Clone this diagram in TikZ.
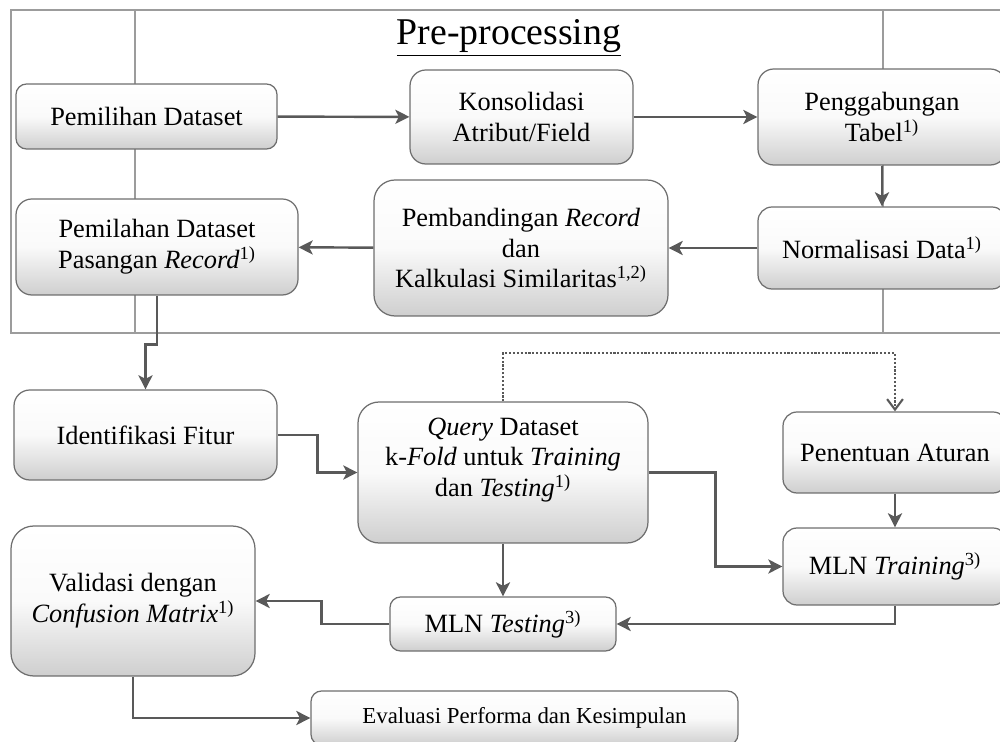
\documentclass[tikz,border=0pt]{standalone}
\usepackage{fontspec}
\setmainfont{Liberation Serif}
\usepackage{tikz}
\usetikzlibrary{arrows.meta}
\definecolor{linegray}{HTML}{595959}
\definecolor{boxgray}{HTML}{6E6E6E}
\definecolor{framegray}{HTML}{9C9C9C}
\tikzset{
x=0.02cm, y=-0.02cm, % one unit is one pixel of the sketch, y runs downwards
>={Stealth[length=8pt,width=8pt,inset=2pt]}, % filled arrow heads
wh/.style 2 args={minimum width=#1*0.02cm, minimum height=#2*0.02cm}, % box size in pixels
process/.style={draw=boxgray, line width=0.7pt, rounded corners=6pt,
  top color=white, bottom color=gray!38, middle color=gray!4,
  align=center, inner sep=2pt, font=\fontsize{15}{17.5}\selectfont}, % every step box
flow/.style={->, draw=linegray, line width=1.4pt}, % the solid connectors
hint/.style={-{Straight Barb[length=6pt,width=9pt]}, draw=linegray, line width=1.2pt, densely dotted}, % dotted connector
frame/.style={draw=framegray, line width=0.6pt}, % pre-processing border
}

\begin{document}
\begin{tikzpicture}
	\useasboundingbox (0,0) rectangle (1000,742);
	\clip (0,0) rectangle (1000,742);
	% pre-processing frame
	\draw[frame] (11,10) rectangle (1012,333);
	\draw[frame] (135,10) -- (135,333) (883,10) -- (883,333);
	\node[font=\fontsize{21.5}{24}\selectfont, anchor=base] (title) at (509,45) {\underline{Pre-processing}};

	\node[process, wh={261}{65}] (pemilihan) at (146.5,116.5) {Pemilihan Dataset};
	\node[process, wh={223}{94}, rounded corners=9pt] (konsolidasi) at (521.5,117) {Konsolidasi\\Atribut/Field};
	\node[process, wh={248}{96}, rounded corners=9pt] (penggabungan) at (882,117) {Penggabungan\\Tabel\textsuperscript{1)}};
	\node[process, wh={248}{82}, rounded corners=8pt] (normalisasi) at (882,248) {Normalisasi Data\textsuperscript{1)}};
	\node[process, wh={294}{136}, rounded corners=12pt] (pembandingan) at (521,248) {Pembandingan \textit{Record}\\dan\\Kalkulasi Similaritas\textsuperscript{1,2)}};
	\node[process, wh={282}{96}, rounded corners=9pt] (pemilahan) at (157,247) {Pemilahan Dataset\\Pasangan \textit{Record}\textsuperscript{1)}};

	\node[process, wh={263}{90}, rounded corners=9pt] (identifikasi) at (145.5,435) {Identifikasi Fitur};
	\node[process, wh={290}{141}, rounded corners=12pt] (query) at (503,472.5) {\textit{Query} Dataset\\k-\textit{Fold} untuk \textit{Training}\\dan \textit{Testing}\textsuperscript{1)}\\\mbox{}};
	\node[process, wh={224}{81}, rounded corners=8pt] (penentuan) at (895,452.5) {Penentuan Aturan};
	\node[process, wh={224}{77}, rounded corners=8pt] (training) at (895,566.5) {MLN \textit{Training}\textsuperscript{3)}};
	\node[process, wh={226}{54}] (testing) at (503,624) {MLN \textit{Testing}\textsuperscript{3)}};
	\node[process, wh={244}{150}, rounded corners=13pt] (validasi) at (133,601) {Validasi dengan\\\textit{Confusion Matrix}\textsuperscript{1)}};
	\node[process, wh={427}{54}, font=\fontsize{13}{15}\selectfont] (evaluasi) at (524.5,718) {Evaluasi Performa dan Kesimpulan};

	\draw[flow] (pemilihan) -- (konsolidasi);
	\draw[flow] (konsolidasi) -- (penggabungan);
	\draw[flow] (penggabungan) -- (normalisasi);
	\draw[flow] (normalisasi) -- (pembandingan);
	\draw[flow] (pembandingan) -- (pemilahan);
	\draw[flow] (pemilahan.south) -- ++(0,49) -| (identifikasi.north);
	\draw[flow] (identifikasi.east) -- ++(40,0) |- (query.west);
	\draw[hint] (query.north) -- ++(0,-48) -| (penentuan.north);
	\draw[flow] (query.east) -- ++(67,0) |- (training.west);
	\draw[flow] (query) -- (testing);
	\draw[flow] (penentuan) -- (training);
	\draw[flow] (training.south) |- (testing.east);
	\draw[flow] (testing.west) -- ++(-68,0) |- (validasi.east);
	\draw[flow] (validasi.south) |- (evaluasi.west);
\end{tikzpicture}
\end{document}
